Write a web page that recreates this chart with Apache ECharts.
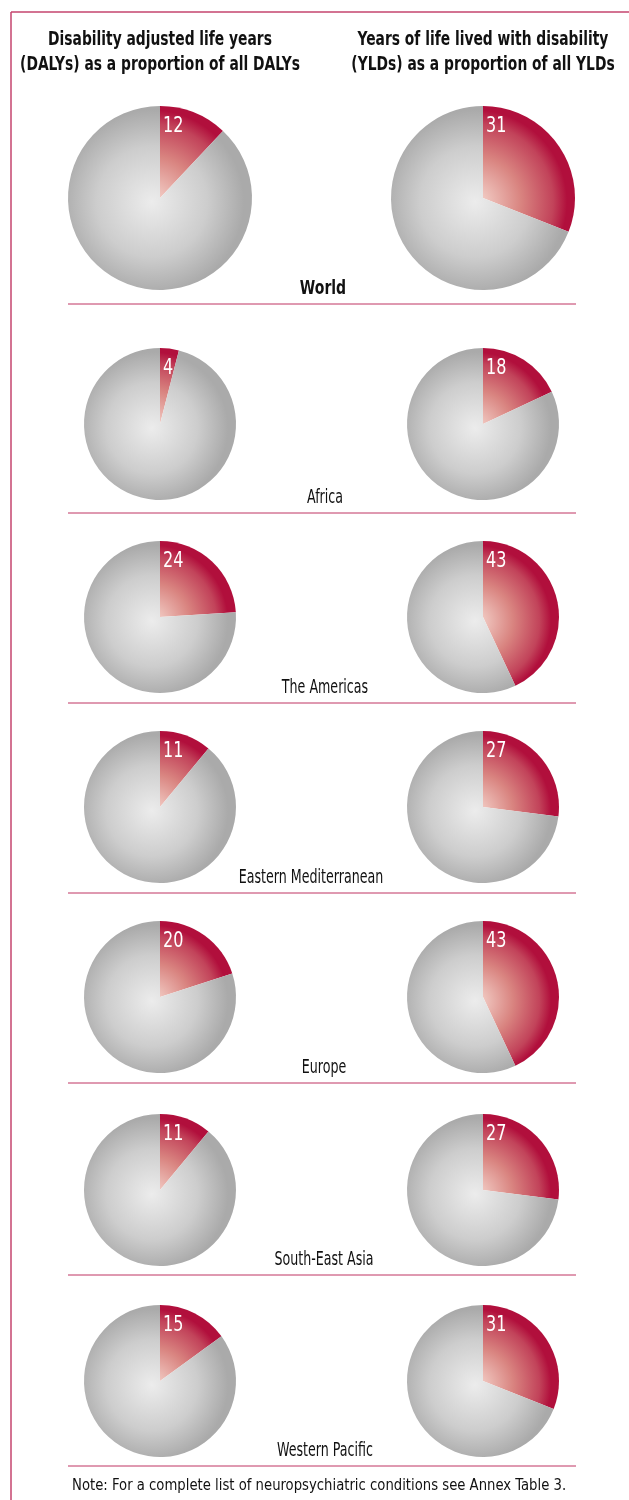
<!DOCTYPE html>
<html>
<head>
<meta charset="utf-8">
<script src="https://cdn.jsdelivr.net/npm/echarts@6/dist/echarts.min.js"></script>
<style>
  html, body { margin: 0; padding: 0; background: #fff; }
  #chart { width: 629px; height: 1500px; }
</style>
</head>
<body>
<div id="chart"></div>
<script>
// data
const regions = ["World", "Africa", "The Americas", "Eastern Mediterranean", "Europe", "South-East Asia", "Western Pacific"];
const dalyShare = [12, 4, 24, 11, 20, 11, 15];
const yldShare = [31, 18, 43, 27, 43, 27, 31];
const headLeft = ["Disability adjusted life years", "(DALYs) as a proportion of all DALYs"];
const headRight = ["Years of life lived with disability", "(YLDs) as a proportion of all YLDs"];
const noteText = "Note: For a complete list of neuropsychiatric conditions see Annex Table 3.";

// layout
const FONT = "'DejaVu Sans Condensed', 'Liberation Sans', sans-serif";
const colX = [160, 483];
const rowY = [198, 424, 617, 807, 997, 1190, 1381];
const radius = [92, 76, 76, 76, 76, 76, 76];
const lineY = [304, 513, 703, 893, 1083, 1275, 1466];
const labelX = [323, 325, 325, 311, 324, 324, 325];
const frameColor = "#c4456e";
const ruleColor = "#bf3562";

const chart = echarts.init(document.getElementById("chart"), null, { renderer: "canvas" });

function grayFill(cx, cy, r) {
    return new echarts.graphic.RadialGradient(cx - 8, cy + 4, r, [
        { offset: 0, color: "#ececec" },
        { offset: 0.6, color: "#cdcdcd" },
        { offset: 1, color: "#aaaaaa" }
    ], true);
}
function redFill(cx, cy, r) {
    return new echarts.graphic.RadialGradient(cx - 8, cy + 4, r, [
        { offset: 0, color: "#f6d8d0" },
        { offset: 0.5, color: "#d98480" },
        { offset: 0.85, color: "#c2435a" },
        { offset: 1, color: "#b10f3c" }
    ], true);
}

const series = [];
const graphic = [];

function addPie(cx, cy, r, val) {
    series.push({
        type: "pie",
        center: [cx, cy],
        radius: [0, r],
        startAngle: 90,
        clockwise: true,
        silent: true,
        label: { show: false },
        labelLine: { show: false },
        itemStyle: { borderWidth: 0 },
        data: [
            { value: val, itemStyle: { color: redFill(cx, cy, r) } },
            { value: 100 - val, itemStyle: { color: grayFill(cx, cy, r) } }
        ]
    });
    graphic.push({
        type: "text",
        x: cx + 3, y: cy - r + 21,
        scaleX: 0.85,
        z: 100,
        style: { text: String(val), fill: "#fff", font: "21px " + FONT, textVerticalAlign: "middle" }
    });
}

regions.forEach((name, i) => {
    addPie(colX[0], rowY[i], radius[i], dalyShare[i]);
    addPie(colX[1], rowY[i], radius[i], yldShare[i]);
    graphic.push({
        type: "text",
        x: labelX[i], y: lineY[i] - 15,
        scaleX: i === 0 ? 0.82 : 0.74,
        z: 100,
        style: {
            text: name, fill: "#111",
            font: (i === 0 ? "bold " : "") + "19px " + FONT,
            textAlign: "center", textVerticalAlign: "middle"
        }
    });
    graphic.push({
        type: "line",
        z: 100,
        shape: { x1: 68, y1: lineY[i], x2: 576, y2: lineY[i] },
        style: { stroke: ruleColor, lineWidth: 1 }
    });
});

// headers
[headLeft, headRight].forEach((lines, k) => {
    lines.forEach((t, j) => {
        graphic.push({
            type: "text",
            x: colX[k], y: 40 + j * 25,
            scaleX: 0.81,
            z: 100,
            style: {
                text: t, fill: "#111", font: "bold 19px " + FONT,
                textAlign: "center", textVerticalAlign: "middle"
            }
        });
    });
});

// frame
graphic.push({ type: "line", z: 100, shape: { x1: 11, y1: 12, x2: 629, y2: 12 }, style: { stroke: frameColor, lineWidth: 1.5 } });
graphic.push({ type: "line", z: 100, shape: { x1: 11, y1: 12, x2: 11, y2: 1500 }, style: { stroke: frameColor, lineWidth: 1.5 } });

graphic.push({
    type: "text",
    x: 72, y: 1486,
    scaleX: 0.98,
    z: 100,
    style: { text: noteText, fill: "#111", font: "15px " + FONT, textVerticalAlign: "middle" }
});

chart.setOption({
    animation: false,
    series: series,
    graphic: graphic
});
</script>
</body>
</html>
